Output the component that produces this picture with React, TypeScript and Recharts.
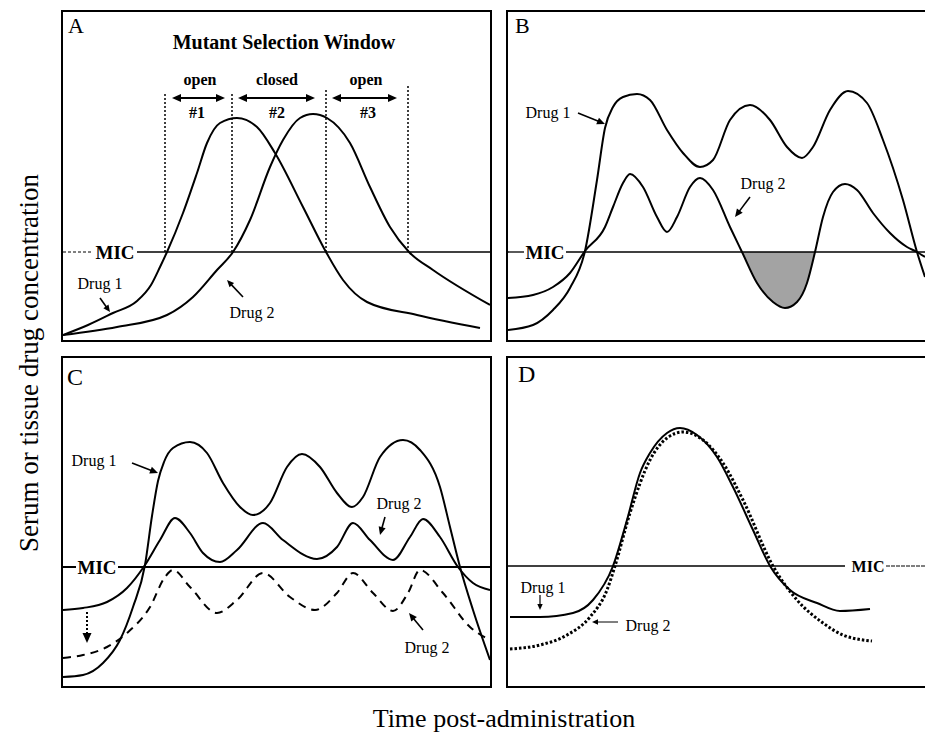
import React from "react";
import { ComposedChart, Line, Area, XAxis, YAxis, ReferenceLine, ReferenceDot } from "recharts";

const SERIF = "'Liberation Serif', 'Times New Roman', serif";

// [time, concentration] pairs (arbitrary units)
const A_DRUG1 = [[0,5],[25,15],[50,27],[74,39],[88,55],[97,73],[104,88],[120,127],[134,167],[144,197],[157,217],[174,222],[194,213],[212,187],[240,133],[263,88],[280,60],[304,38],[354,25],[417,12]];
const A_DRUG2 = [[0,5],[54,13],[104,25],[130,43],[154,70],[170,88],[187,120],[207,173],[220,200],[237,222],[250,226],[264,222],[287,197],[307,153],[327,113],[346,88],[370,70],[427,35]];
const A_MIC = 88;
const A_EDGES = [102, 169, 263, 345];
const A_EDGE_TOPS = [248, 248, 250, 255];

const B_DRUG1 = [[0,10],[25,15],[45,30],[62,52],[77,89],[89,160],[97,212],[105,233],[115,243],[129,246],[142,240],[159,210],[175,187],[192,173],[205,180],[222,220],[242,235],[262,220],[279,193],[294,182],[305,193],[322,230],[340,249],[359,237],[375,200],[395,140],[409,88],[417,63]];
const B_DRUG2 = [[0,42],[25,45],[45,53],[62,67],[77,89],[97,113],[105,133],[115,157],[122,166],[135,153],[149,123],[159,108],[169,123],[182,153],[192,162],[205,150],[222,113],[234,88],[249,57],[265,38],[277,32],[289,38],[299,57],[307,88],[315,123],[325,148],[337,156],[349,150],[365,127],[382,107],[399,93],[409,88],[417,83]];
const B_MIC = 88;

const C_DRUG1 = [[0,9],[20,11],[40,23],[57,46],[70,79],[82,121],[89,170],[95,205],[101,224],[110,238],[127,244],[144,233],[160,203],[177,179],[190,171],[207,183],[224,219],[239,232],[257,219],[274,193],[289,179],[300,189],[317,229],[340,246],[357,236],[377,199],[387,159],[397,119],[410,76],[427,26]];
const C_DRUG2 = [[0,76],[20,78],[44,84],[64,98],[82,121],[97,146],[112,168],[127,153],[140,133],[157,124],[174,136],[200,163],[220,146],[254,127],[274,139],[290,163],[307,146],[330,126],[347,149],[360,167],[377,149],[395,119],[410,103],[427,96]];
const C_DRUG2_LOW = [[0,28],[20,31],[44,39],[64,53],[87,79],[102,109],[110,116],[127,99],[154,73],[174,86],[200,113],[227,89],[252,76],[274,93],[290,113],[310,93],[330,75],[345,93],[357,116],[380,93],[407,59],[427,46]];
const C_MIC = 119;

const D_DRUG1 = [[2,69],[32,69],[65,73],[85,86],[105,120],[119,166],[132,213],[142,233],[159,253],[172,258],[189,251],[209,229],[225,199],[245,156],[262,120],[282,96],[309,83],[332,75],[362,77]];
const D_DRUG2 = [[2,37],[32,41],[59,51],[82,69],[99,96],[107,120],[122,173],[142,226],[159,248],[175,254],[195,246],[215,223],[235,186],[265,120],[289,86],[315,63],[335,51],[364,45]];
const D_MIC = 120;

const toPts = (arr: number[][]) => arr.map(([t, c]) => ({ t, c }));
// sub-MIC dip of drug 2 in panel B
const B_SHADE = B_DRUG2.filter(([t]) => t >= 234 && t <= 307).map(([t, c]) => ({ t, r: [c, B_MIC] }));

const PANEL_H = 332;

const arrowShape = (both: boolean, width: number, head: number, dash?: string) => (p: any) => {
  const { x1, y1, x2, y2 } = p;
  const a = Math.atan2(y2 - y1, x2 - x1);
  const tri = (x: number, y: number, ang: number) => {
    const bx = x - head * Math.cos(ang);
    const by = y - head * Math.sin(ang);
    const h = head * 0.45;
    return `${x},${y} ${bx + h * Math.sin(ang)},${by - h * Math.cos(ang)} ${bx - h * Math.sin(ang)},${by + h * Math.cos(ang)}`;
  };
  const sx = both ? x1 + head * 0.8 * Math.cos(a) : x1;
  const sy = both ? y1 + head * 0.8 * Math.sin(a) : y1;
  return (
    <g>
      <line x1={sx} y1={sy} x2={x2 - head * 0.8 * Math.cos(a)} y2={y2 - head * 0.8 * Math.sin(a)} stroke="#000" strokeWidth={width} strokeDasharray={dash} />
      <polygon points={tri(x2, y2, a)} fill="#000" />
      {both && <polygon points={tri(x1, y1, a + Math.PI)} fill="#000" />}
    </g>
  );
};

const arrow = (key: string, x1: number, y1: number, x2: number, y2: number, width = 1.6, head = 8, both = false, dash?: string) => (
  <ReferenceLine key={key} segment={[{ x: x1, y: y1 }, { x: x2, y: y2 }]} ifOverflow="visible" shape={arrowShape(both, width, head, dash)} />
);

const seg = (key: string, x1: number, x2: number, y: number, width: number, dash?: string) => (
  <ReferenceLine key={key} segment={[{ x: x1, y }, { x: x2, y }]} stroke="#000" strokeWidth={width} strokeDasharray={dash} ifOverflow="visible" />
);

const note = (key: string, x: number, y: number, text: string, size = 16, bold = false, start = false) => (
  <ReferenceDot key={key} x={x} y={y} r={0} ifOverflow="visible" shape={(p: any) => (
    <text x={p.cx} y={p.cy} textAnchor={start ? "start" : "middle"} dominantBaseline={start ? "alphabetic" : "central"}
      fontFamily={SERIF} fontSize={size} fontWeight={bold ? "bold" : "normal"} fill="#000">{text}</text>
  )} />
);

const curve = (key: string, data: number[][], width = 2, dash?: string) => (
  <Line key={key} data={toPts(data)} dataKey="c" type="monotone" stroke="#000" strokeWidth={width}
    strokeDasharray={dash} dot={false} activeDot={false} isAnimationActive={false} />
);

function Panel({ left, top, width, children }: { left: number; top: number; width: number; children: React.ReactNode }) {
  const w = width - 4;
  const h = PANEL_H - 4;
  return (
    <div style={{ position: "absolute", left, top, width, height: PANEL_H, border: "2px solid #000", boxSizing: "border-box", background: "#fff" }}>
      <ComposedChart width={w} height={h} margin={{ top: 0, right: 0, bottom: 0, left: 0 }}>
        <XAxis type="number" dataKey="t" domain={[0, w]} hide allowDataOverflow />
        <YAxis type="number" domain={[0, h]} hide allowDataOverflow />
        {children}
      </ComposedChart>
    </div>
  );
}

export default function App() {
  return (
    <div style={{ position: "absolute", left: 0, top: 0, width: 925, height: 733, overflow: "hidden", background: "#fff" }}>
      <Panel left={61} top={10} width={431}>
        {[
          seg("m1", 0, 29, A_MIC, 1, "3 2"),
          seg("m2", 74, 427, A_MIC, 1.3),
          ...A_EDGES.map((x, i) => (
            <ReferenceLine key={"e" + i} segment={[{ x, y: A_MIC }, { x, y: A_EDGE_TOPS[i] }]} stroke="#000" strokeWidth={1.5} strokeDasharray="2 2" />
          )),
          curve("d1", A_DRUG1),
          curve("d2", A_DRUG2),
          arrow("w1", 109, 242, 162, 242, 2.2, 9, true),
          arrow("w2", 175, 242, 252, 242, 2.2, 9, true),
          arrow("w3", 269, 242, 334, 242, 2.2, 9, true),
          arrow("a1", 37, 42, 47, 28, 1.6, 7),
          arrow("a2", 180, 43, 164, 60, 1.6, 7),
          note("A", 5, 307, "A", 22, false, true),
          note("t", 221, 298, "Mutant Selection Window", 20, true),
          note("o1", 137, 261, "open", 16, true),
          note("o2", 214, 261, "closed", 16, true),
          note("o3", 303, 261, "open", 16, true),
          note("n1", 134, 228, "#1", 16, true),
          note("n2", 214, 228, "#2", 16, true),
          note("n3", 305, 228, "#3", 16, true),
          note("mic", 52, A_MIC, "MIC", 19, true),
          note("l1", 37, 57, "Drug 1"),
          note("l2", 189, 28, "Drug 2"),
        ]}
      </Panel>

      <Panel left={506} top={10} width={425}>
        {[
          <Area key="sh" data={B_SHADE} dataKey="r" type="monotone" fill="#a3a3a3" fillOpacity={1} stroke="none" isAnimationActive={false} />,
          seg("m1", 0, 16, B_MIC, 1.3),
          seg("m2", 58, 421, B_MIC, 1.3),
          curve("d1", B_DRUG1),
          curve("d2", B_DRUG2),
          arrow("a1", 70, 227, 97, 216, 1.6, 8),
          arrow("a2", 242, 143, 227, 123, 1.6, 8),
          note("B", 7, 307, "B", 22, false, true),
          note("mic", 37, B_MIC, "MIC", 19, true),
          note("l1", 40, 228, "Drug 1"),
          note("l2", 255, 157, "Drug 2"),
        ]}
      </Panel>

      <Panel left={61} top={356} width={431}>
        {[
          seg("m1", 0, 13, C_MIC, 2),
          seg("m2", 55, 427, C_MIC, 2.2),
          curve("d1", C_DRUG1),
          curve("d2", C_DRUG2),
          curve("d3", C_DRUG2_LOW, 2, "8 6"),
          arrow("a1", 69, 223, 95, 213, 1.6, 8),
          arrow("a2", 322, 169, 317, 151, 1.6, 8),
          arrow("a3", 360, 56, 346, 73, 1.6, 8),
          arrow("a4", 24, 74, 24, 43, 2, 10, false, "2 2"),
          note("C", 4, 301, "C", 24, false, true),
          note("mic", 34, C_MIC, "MIC", 19, true),
          note("l1", 31, 226, "Drug 1"),
          note("l2", 336, 183, "Drug 2"),
          note("l3", 364, 39, "Drug 2"),
        ]}
      </Panel>

      <Panel left={506} top={356} width={425}>
        {[
          seg("m1", 0, 337, D_MIC, 1.3),
          seg("m2", 378, 421, D_MIC, 1, "4 1"),
          curve("d2", D_DRUG2, 3, "2.5 2"),
          curve("d1", D_DRUG1),
          arrow("a1", 32, 91, 32, 76, 1.2, 6),
          arrow("a2", 110, 64, 84, 64, 1, 6),
          note("D", 10, 304, "D", 24, false, true),
          note("mic", 360, D_MIC, "MIC", 16, true),
          note("l1", 35, 99, "Drug 1"),
          note("l2", 140, 61, "Drug 2"),
        ]}
      </Panel>

      <svg width={925} height={733} style={{ position: "absolute", left: 0, top: 0, pointerEvents: "none" }}>
        <text transform="translate(38,363) rotate(-90)" textAnchor="middle" fontFamily={SERIF} fontSize={27} fill="#000">
          Serum or tissue drug concentration
        </text>
        <text x={504} y={727} textAnchor="middle" fontFamily={SERIF} fontSize={26} fill="#000">
          Time post-administration
        </text>
      </svg>
    </div>
  );
}
